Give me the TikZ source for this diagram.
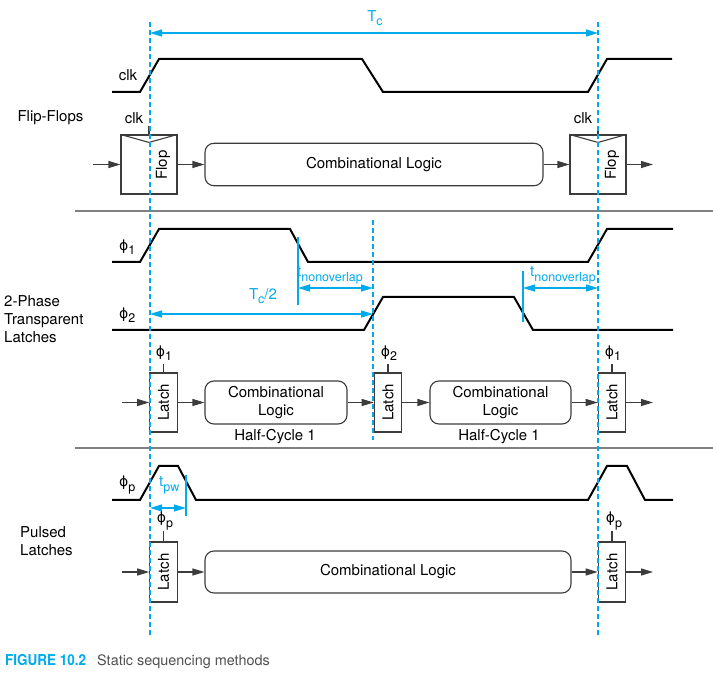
\documentclass[tikz,border=0pt]{standalone}
\usepackage{fontspec}
\setmainfont{TeX Gyre Heros}
\newfontfamily\grk{DejaVu Sans}
\usetikzlibrary{arrows.meta}
\definecolor{cy}{RGB}{0,170,235}
\definecolor{bx}{RGB}{60,60,60}
\definecolor{capgray}{RGB}{80,80,80}
\newcommand\phisym{{\grk\fontsize{14}{16}\selectfont\char"03D5}}
\newcommand\lo[1]{\raisebox{-4.5pt}{\fontsize{12.5}{13}\selectfont #1}}
\begin{document}
\begin{tikzpicture}[x=1pt,y=-1pt,
  font=\fontsize{15}{18}\selectfont,
  wave/.style={line width=2pt, black, line join=miter},
  blk/.style={draw=bx, line width=1.1pt, fill=white, inner sep=0pt},
  comb/.style={blk, rounded corners=9pt, align=center},
  sig/.style={bx, line width=1.1pt, -{Triangle[length=12pt,width=7pt]}},
  dim/.style={cy, line width=1.2pt, {Triangle[length=12pt,width=7pt]}-{Triangle[length=12pt,width=7pt]}},
  mark line/.style={cy, line width=1.2pt},
  vguide/.style={cy, line width=1.1pt, dash pattern=on 5pt off 3pt},
  sep/.style={draw=gray, line width=1.5pt},
  tick/.style={bx, line width=1.1pt},
  lbl/.style={inner sep=0pt},
  clbl/.style={inner sep=0pt, text=cy}
]
\useasboundingbox (0,0) rectangle (713,676);

% separators
\draw[sep] (75,211) -- (713,211);
\draw[sep] (75,448) -- (713,448);

% ===================== Flip-Flops =====================
\node[lbl] (ffl) at (50.5,118) {Flip-Flops};
\node[lbl] (clkl) at (128,75) {clk};
\draw[wave] (112,92) -- (140,92) -- (159,59) -- (362,59) -- (383,92) -- (588,92) -- (607,59) -- (672,59);

\coordinate (tca) at (150,33);
\coordinate (tcb) at (598,33);
\draw[dim] (tca) -- (tcb);
\node[clbl] (tcl) at (375,18) {T\lo{c}};

\node[blk, minimum width=56pt, minimum height=59pt] (f1) at (149,164.5) {};
\node[blk, minimum width=56pt, minimum height=59pt] (f2) at (598,164.5) {};
\draw[tick] (f1.north west) -- ([yshift=-8pt]f1.north) -- (f1.north east);
\draw[tick] (f2.north west) -- ([yshift=-8pt]f2.north) -- (f2.north east);
\draw[tick] (f1.north) -- ([yshift=8pt]f1.north);
\draw[tick] (f2.north) -- ([yshift=8pt]f2.north);
\node[lbl, rotate=90] (f1t) at (163,165) {Flop};
\node[lbl, rotate=90] (f2t) at (612,165) {Flop};
\node[lbl] (ck1) at (134,118) {clk};
\node[lbl] (ck2) at (583,118) {clk};
\node[comb, minimum width=338pt, minimum height=42.5pt] (cl1) at (374,164.5) {Combinational Logic};
\coordinate (fin) at (93,164.5);
\coordinate (fout) at (653,164.5);
\draw[sig] (fin) -- (f1.west);
\draw[sig] (f1.east) -- (cl1.west);
\draw[sig] (cl1.east) -- (f2.west);
\draw[sig] (f2.east) -- (fout);

% ===================== 2-Phase =====================
\node[lbl, align=left, anchor=west] (tpl) at (4,319) {2-Phase\\Transparent\\Latches};
\node[lbl, anchor=west] (p1l) at (119,247) {\phisym\lo{1}};
\node[lbl, anchor=west] (p2l) at (119,315) {\phisym\lo{2}};
\draw[wave] (112,262) -- (140,262) -- (159,229) -- (290,229) -- (308,262) -- (588,262) -- (607,229) -- (673,229);
\draw[wave] (112,330) -- (364,330) -- (383,297) -- (514,297) -- (533,330) -- (673,330);

\coordinate (no1a) at (298,237);
\coordinate (no1b) at (298,305);
\draw[mark line] (no1a) -- (no1b);
\coordinate (no1s) at (298,288);
\coordinate (no1e) at (373,288);
\draw[dim] (no1s) -- (no1e);
\node[clbl, anchor=base west] (no1l) at (297,277) {t\lo{nonoverlap}};

\coordinate (no2a) at (523,271);
\coordinate (no2b) at (523,322);
\draw[mark line] (no2a) -- (no2b);
\coordinate (no2s) at (523,288);
\coordinate (no2e) at (598,288);
\draw[dim] (no2s) -- (no2e);
\node[clbl, anchor=base west] (no2l) at (530,277) {t\lo{nonoverlap}};

\coordinate (th1) at (150,314);
\coordinate (th2) at (373,314);
\draw[dim] (th1) -- (th2);
\node[clbl] (thl) at (263,296) {T\lo{c}/2};

\node[blk, minimum width=27.5pt, minimum height=59pt] (l1) at (163.5,402.5) {};
\node[blk, minimum width=27.5pt, minimum height=59pt] (l2) at (388,402.5) {};
\node[blk, minimum width=27.5pt, minimum height=59pt] (l3) at (612,402.5) {};
\foreach \n in {l1,l2,l3} {
  \node[lbl, rotate=90] at (\n) {Latch};
  \draw[tick] (\n.north) -- ([yshift=8pt]\n.north);
}
\node[lbl] (l1p) at (164,353) {\phisym\lo{1}};
\node[lbl] (l2p) at (389,353) {\phisym\lo{2}};
\node[lbl] (l3p) at (613,353) {\phisym\lo{1}};
\node[comb, minimum width=142pt, minimum height=43pt] (c2a) at (276,402.5) {Combinational\\Logic};
\node[comb, minimum width=141pt, minimum height=43pt] (c2b) at (500.5,402.5) {Combinational\\Logic};
\node[lbl] (hc1) at (275,437) {Half-Cycle 1};
\node[lbl] (hc2) at (499,437) {Half-Cycle 1};
\coordinate (lin) at (122,402.5);
\coordinate (lout) at (653,402.5);
\draw[sig] (lin) -- (l1.west);
\draw[sig] (l1.east) -- (c2a.west);
\draw[sig] (c2a.east) -- (l2.west);
\draw[sig] (l2.east) -- (c2b.west);
\draw[sig] (c2b.east) -- (l3.west);
\draw[sig] (l3.east) -- (lout);

% ===================== Pulsed =====================
\node[lbl, align=left, anchor=west] (pll) at (20,541) {Pulsed\\Latches};
\node[lbl, anchor=west] (ppl) at (119,485) {\phisym\lo{p}};
\draw[wave] (112,500) -- (140,500) -- (159,466) -- (178,466) -- (196,500) -- (588,500) -- (607,466) -- (627,466) -- (645,500) -- (673,500);
\coordinate (pwa) at (186,475);
\coordinate (pwb) at (186,516);
\draw[mark line] (pwa) -- (pwb);
\coordinate (pws) at (150,508);
\coordinate (pwe) at (186,508);
\draw[dim] (pws) -- (pwe);
\node[clbl, anchor=base west] (pwl) at (159,487) {t\lo{pw}};

\node[blk, minimum width=27.5pt, minimum height=60pt] (p1) at (163.5,572) {};
\node[blk, minimum width=27.5pt, minimum height=60pt] (p2) at (612,572) {};
\foreach \n in {p1,p2} {
  \node[lbl, rotate=90] at (\n) {Latch};
  \draw[tick] (\n.north) -- ([yshift=10pt]\n.north);
}
\node[lbl] (p1p) at (165,521) {\phisym\lo{p}};
\node[lbl] (p2p) at (614,521) {\phisym\lo{p}};
\node[comb, minimum width=366pt, minimum height=42pt] (c3) at (388,572) {Combinational Logic};
\coordinate (pin) at (122,572);
\coordinate (pout) at (653,572);
\draw[sig] (pin) -- (p1.west);
\draw[sig] (p1.east) -- (c3.west);
\draw[sig] (c3.east) -- (p2.west);
\draw[sig] (p2.east) -- (pout);

% ===================== guides =====================
\coordinate (g1a) at (150,22);
\coordinate (g1b) at (150,636);
\coordinate (g2a) at (598,22);
\coordinate (g2b) at (598,636);
\coordinate (g3a) at (373,220);
\coordinate (g3b) at (373,440);
\draw[vguide] (g1a) -- (g1b);
\draw[vguide] (g2a) -- (g2b);
\draw[vguide] (g3a) -- (g3b);

% caption
\node[lbl, anchor=base west, text=cy, font=\fontsize{15}{16}\selectfont\bfseries] (cap1) at (5,665) {\scalebox{0.9}[1]{FIGURE 10.2}};
\node[lbl, anchor=base west, text=capgray, font=\fontsize{14.4}{16}\selectfont] (cap2) at (97,665) {Static sequencing methods};
\end{tikzpicture}
\end{document}
